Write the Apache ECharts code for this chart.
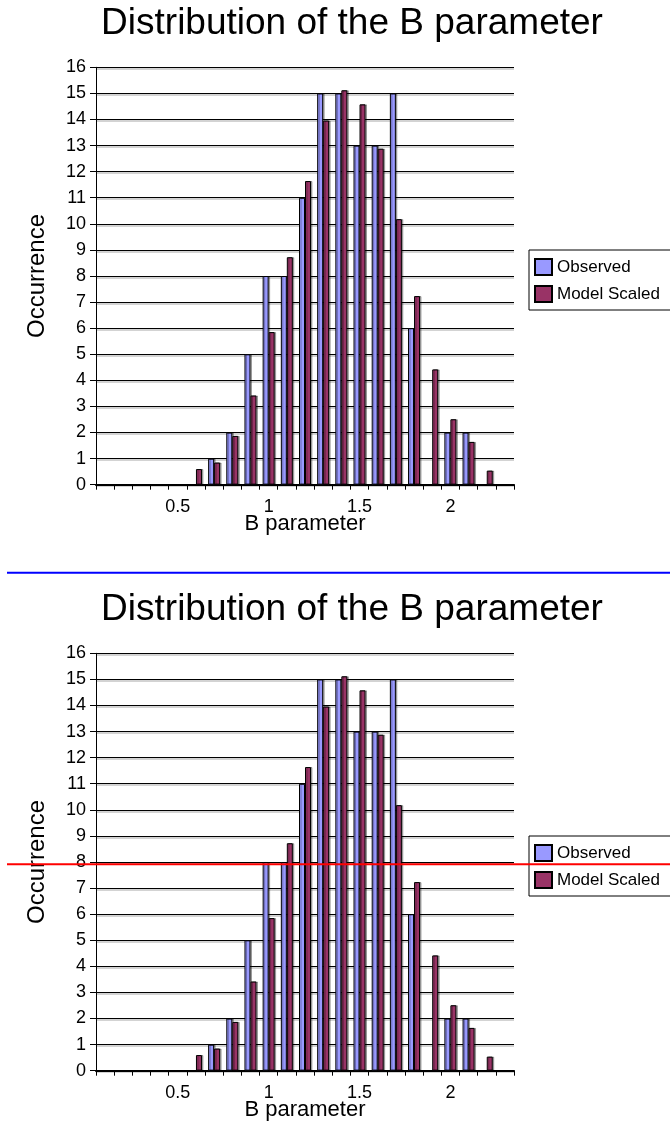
<!DOCTYPE html>
<html>
<head>
<meta charset="utf-8">
<script src="https://cdn.jsdelivr.net/npm/echarts@6/dist/echarts.min.js"></script>
<style>
html,body{margin:0;padding:0;background:#fff;}
#c{width:670px;height:1138px;}
</style>
</head>
<body>
<div id="c"></div>
<script>
// ---- data ----
const categories = ['0.1','0.2','0.3','0.4','0.5','0.6','0.7','0.8','0.9','1','1.1','1.2','1.3','1.4','1.5','1.6','1.7','1.8','1.9','2','2.1','2.2','2.3'];
const observed = [0,0,0,0,0,0,1,2,5,8,8,11,15,15,13,13,15,6,0,2,2,0,0];
const modelScaled = [0,0,0,0,0,0.6,0.85,1.87,3.42,5.85,8.72,11.64,13.96,15.12,14.58,12.88,10.18,7.23,4.42,2.51,1.64,0.54,0];
const yTicks = {min:0, max:16, interval:1};
const titleText = 'Distribution of the B parameter';
const xName = 'B parameter';
const yName = 'Occurrence';
const seriesNames = ['Observed','Model Scaled'];

const FONT = '"Liberation Sans", Arial, sans-serif';
const chart = echarts.init(document.getElementById('c'), null, {renderer:'canvas'});

const offsets = [0, 586];
const grids = [], xAxes = [], yAxes = [], series = [], legends = [], graphics = [];

offsets.forEach((off, i) => {
  grids.push({left:96, top:67.3+off, width:418, height:417.4, containLabel:false});
  xAxes.push({
    type:'category', gridIndex:i, data:categories, boundaryGap:true,
    name:xName, nameLocation:'middle', nameGap:28.5, nameMoveOverlap:false,
    nameTextStyle:{fontFamily:FONT, fontSize:22, color:'#000'},
    axisLine:{show:true, lineStyle:{color:'#000', width:2}},
    axisTick:{show:true, interval:0, length:5, lineStyle:{color:'#000'}},
    axisLabel:{interval:(idx)=> idx % 5 === 4, margin:13, fontFamily:FONT, fontSize:18, color:'#000'},
    splitLine:{show:false}
  });
  yAxes.push({
    type:'value', gridIndex:i, min:yTicks.min, max:yTicks.max, interval:yTicks.interval,
    name:yName, nameLocation:'middle', nameRotate:90, nameGap:47, nameMoveOverlap:false,
    nameTextStyle:{fontFamily:FONT, fontSize:24, color:'#000'},
    axisLine:{show:true, lineStyle:{color:'#000', width:1}},
    axisTick:{show:true, length:6, lineStyle:{color:'#000'}},
    axisLabel:{margin:10, fontFamily:FONT, fontSize:18, color:'#000'},
    splitLine:{show:true, lineStyle:{color:'#000', width:1, shadowColor:'rgba(0,0,0,0.35)', shadowOffsetY:1.5, shadowBlur:0}}
  });
  series.push({
    name:seriesNames[0], type:'bar', xAxisIndex:i, yAxisIndex:i, data:observed,
    barCategoryGap:'34%', barGap:'0%',
    itemStyle:{color:'#9999FF', borderColor:'#000', borderWidth:1, shadowColor:'rgba(0,0,0,0.3)', shadowOffsetX:1.5, shadowBlur:0}
  });
  series.push({
    name:seriesNames[1], type:'bar', xAxisIndex:i, yAxisIndex:i, data:modelScaled,
    barCategoryGap:'34%', barGap:'0%',
    itemStyle:{color:'#993366', borderColor:'#000', borderWidth:1, shadowColor:'rgba(0,0,0,0.3)', shadowOffsetX:1.5, shadowBlur:0}
  });
  legends.push({
    left:529, top:250+off, orient:'vertical', data:seriesNames,
    itemWidth:17, itemHeight:16, itemGap:9, padding:[8,40,7,5],
    borderColor:'#000', borderWidth:1, backgroundColor:'#fff',
    icon:'rect', selectedMode:false,
    textStyle:{fontFamily:FONT, fontSize:17, color:'#000'}
  });
  graphics.push({
    type:'text', x:352, y:24+off, z:10,
    style:{text:titleText, fontFamily:FONT, fontSize:37, fill:'#000', textAlign:'center', textVerticalAlign:'middle'}
  });
});

graphics.push({type:'line', z:20, shape:{x1:7, y1:572.7, x2:670, y2:572.7}, style:{stroke:'#0000FF', lineWidth:2}});
graphics.push({type:'line', z:100, shape:{x1:7, y1:864.3, x2:670, y2:864.3}, style:{stroke:'#FF0000', lineWidth:2}});

chart.setOption({
  animation:false,
  backgroundColor:'#fff',
  grid:grids, xAxis:xAxes, yAxis:yAxes, series:series, legend:legends,
  graphic:{elements:graphics}
});
</script>
</body>
</html>
